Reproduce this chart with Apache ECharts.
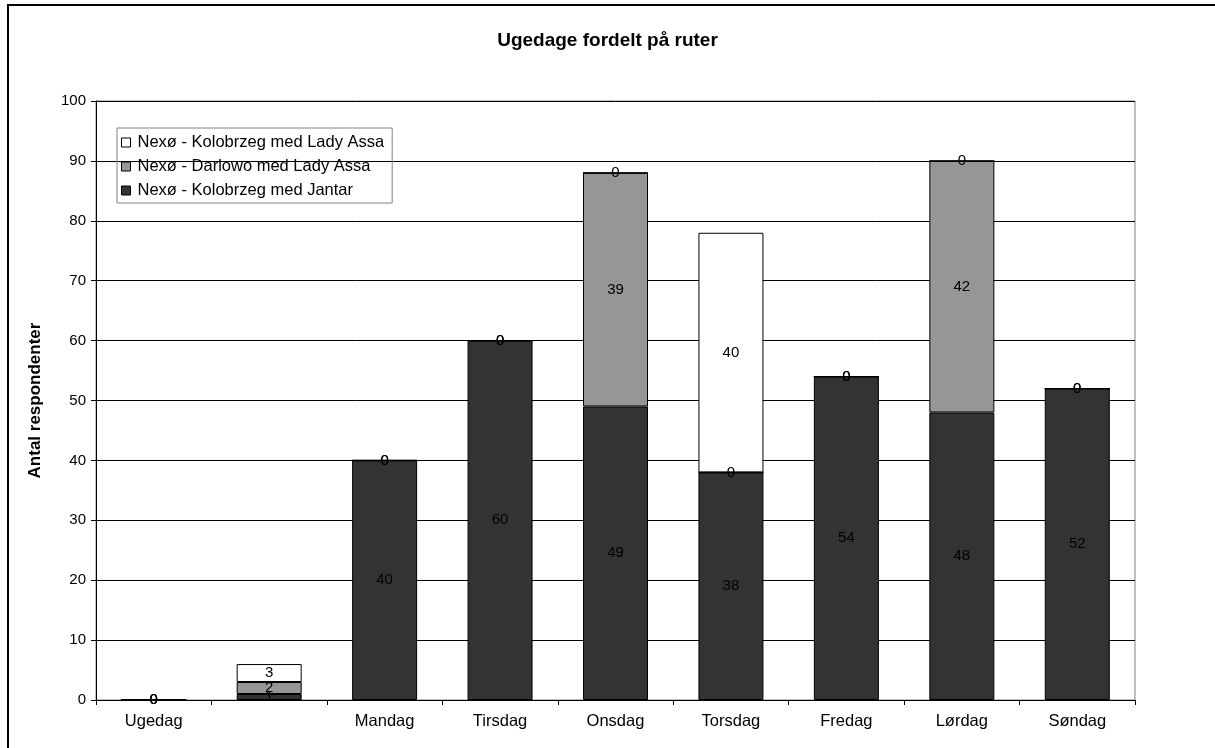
<!DOCTYPE html>
<html>
<head>
<meta charset="utf-8">
<script src="https://cdn.jsdelivr.net/npm/echarts@6/dist/echarts.min.js"></script>
<style>html,body{margin:0;padding:0;background:#fff}#c{width:1215px;height:748px}</style>
</head>
<body>
<div id="c"></div>
<script>
const categories = ['Ugedag', '', 'Mandag', 'Tirsdag', 'Onsdag', 'Torsdag', 'Fredag', 'Lørdag', 'Søndag'];
const jantar = [0, 1, 40, 60, 49, 38, 54, 48, 52];
const darlowo = [0, 2, 0, 0, 39, 0, 0, 42, 0];
const kolobrzegLadyAssa = [0, 3, 0, 0, 0, 40, 0, 0, 0];
const seriesNames = ['Nexø - Kolobrzeg med Jantar', 'Nexø - Darlowo med Lady Assa', 'Nexø - Kolobrzeg med Lady Assa'];
const yTicks = [0, 10, 20, 30, 40, 50, 60, 70, 80, 90, 100];

const FONT = 'Liberation Sans, Arial, sans-serif';
const chart = echarts.init(document.getElementById('c'), null, {renderer: 'canvas'});
const lbl = {show: true, position: 'inside', color: '#000', fontFamily: FONT, fontSize: 15};
function mk(name, data, color) {
  return {
    name, type: 'bar', stack: 'a', data, barWidth: 65,
    itemStyle: {color, borderColor: '#000', borderWidth: 1},
    label: lbl, emphasis: {disabled: true}
  };
}
chart.setOption({
  animation: false,
  backgroundColor: '#fff',
  title: {
    text: 'Ugedage fordelt på ruter', left: 'center', top: 26,
    textStyle: {fontFamily: FONT, fontSize: 19, fontWeight: 'bold', color: '#000'}
  },
  legend: {
    orient: 'vertical', left: 117, top: 128,
    data: [seriesNames[2], seriesNames[1], seriesNames[0]],
    itemWidth: 9, itemHeight: 9, itemGap: 7,
    borderColor: '#808080', borderWidth: 1, padding: [6, 8, 4, 4],
    icon: 'rect',
    itemStyle: {borderColor: '#000', borderWidth: 1},
    textStyle: {fontFamily: FONT, fontSize: 16.5, color: '#000', padding: [0, 0, 0, 2]}
  },
  grid: {left: 96, top: 101, width: 1039, height: 599, show: true, borderColor: '#808080', borderWidth: 1, containLabel: false},
  xAxis: {
    type: 'category', data: categories,
    axisLine: {lineStyle: {color: '#000', width: 1}},
    axisTick: {show: true, alignWithLabel: false, length: 5, lineStyle: {color: '#000'}},
    axisLabel: {fontFamily: FONT, fontSize: 16.5, color: '#000', margin: 13, interval: 0}
  },
  yAxis: {
    type: 'value', min: yTicks[0], max: yTicks[yTicks.length - 1], interval: 10,
    name: 'Antal respondenter', nameLocation: 'middle', nameGap: 52,
    nameTextStyle: {fontFamily: FONT, fontSize: 17, fontWeight: 'bold', color: '#000'},
    axisLine: {show: true, lineStyle: {color: '#000'}},
    axisTick: {show: true, length: 5, lineStyle: {color: '#000'}},
    axisLabel: {fontFamily: FONT, fontSize: 15, color: '#000', margin: 10},
    splitLine: {lineStyle: {color: '#000', width: 1}}
  },
  graphic: [{
    type: 'rect', shape: {x: 8, y: 5, width: 1220, height: 800},
    style: {fill: 'none', stroke: '#000', lineWidth: 2}, silent: true, z: 100
  }],
  series: [
    mk(seriesNames[0], jantar, '#333333'),
    mk(seriesNames[1], darlowo, '#969696'),
    mk(seriesNames[2], kolobrzegLadyAssa, '#ffffff')
  ]
});
</script>
</body>
</html>
